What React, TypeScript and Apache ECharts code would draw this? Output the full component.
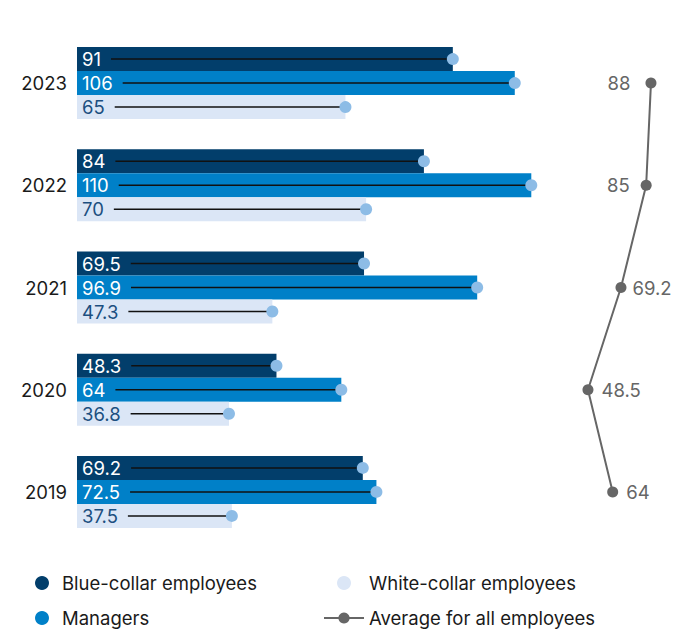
import React, { useEffect, useRef } from "react";
import * as echarts from "echarts";

const categories = ["2023", "2022", "2021", "2020", "2019"];
const blueCollar = [91, 84, 69.5, 48.3, 69.2];
const managers = [106, 110, 96.9, 64, 72.5];
const whiteCollar = [65, 70, 47.3, 36.8, 37.5];
const average = [88, 85, 69.2, 48.5, 64];

const FONT = "Inter, 'Noto Sans', sans-serif";
const FS = 18.5;
const C_BLUE = "#023e6b";
const C_MAN = "#0080c8";
const C_WHITE = "#dbe6f6";
const C_AVG = "#666666";
const C_DOT = "#8dbce6";

export default function App() {
  const ref = useRef<HTMLDivElement>(null);
  useEffect(() => {
    if (!ref.current) return;
    const chart = echarts.init(ref.current, null, { renderer: "svg" });
    const canvas = document.createElement("canvas");
    const ctx = canvas.getContext("2d")!;
    ctx.font = FS + "px Inter";
    const measure = (t: string) => ctx.measureText(t).width;

    const barSeries = (name: string, data: number[], color: string, labelColor: string) => ({
      type: "bar",
      name,
      data,
      xAxisIndex: 0,
      yAxisIndex: 0,
      barWidth: 24,
      barGap: "0%",
      itemStyle: { color },
      silent: true,
      z: 2,
      label: {
        show: true,
        position: "insideLeft",
        distance: 5,
        color: labelColor,
        fontSize: FS,
        fontFamily: FONT,
      },
    });

    const connector = (data: number[], offset: number) => ({
      type: "custom",
      xAxisIndex: 0,
      yAxisIndex: 0,
      z: 3,
      silent: true,
      data: data.map((v, i) => [v, i]),
      renderItem: (params: any, api: any) => {
        const v = api.value(0);
        const c = api.value(1);
        const p0 = api.coord([0, c]);
        const p1 = api.coord([v, c]);
        const y = p1[1] + offset;
        const x0 = p0[0] + 5 + measure(String(v)) + 10;
        return {
          type: "group",
          children: [
            {
              type: "line",
              shape: { x1: x0, y1: y, x2: p1[0], y2: y },
              style: { stroke: "#111", lineWidth: 1.5 },
            },
            {
              type: "circle",
              shape: { cx: p1[0], cy: y, r: 6 },
              style: { fill: C_DOT },
            },
          ],
        };
      },
    });

    const avgLabelPos = ["left", "left", "right", "right", "right"];
    const avgLabelDist = [15, 11, 6, 8, 8];

    const legendText = { fontSize: FS, color: "#1a1a1a", fontFamily: FONT, lineHeight: 20 };

    const option: any = {
      animation: false,
      grid: [
        { left: 77, top: 32, width: 495.6, height: 511, containLabel: false },
        { left: 510.6, top: 32, width: 159.5, height: 511, containLabel: false },
      ],
      xAxis: [
        { type: "value", gridIndex: 0, min: 0, max: 120, show: false },
        { type: "value", gridIndex: 1, min: 0, max: 100, show: false },
      ],
      yAxis: [
        {
          type: "category",
          gridIndex: 0,
          data: categories,
          inverse: true,
          axisLine: { show: false },
          axisTick: { show: false },
          splitLine: { show: false },
          axisLabel: { margin: 10, fontSize: FS, color: "#1a1a1a", fontFamily: FONT },
        },
        {
          type: "category",
          gridIndex: 1,
          data: categories,
          inverse: true,
          show: false,
        },
      ],
      legend: [
        {
          orient: "vertical",
          left: 35,
          top: 573,
          padding: 0,
          itemWidth: 30,
          itemHeight: 14,
          itemGap: 15,
          icon: "circle",
          selectedMode: false,
          data: ["Blue-collar employees", "Managers"],
          textStyle: legendText,
        },
        {
          orient: "vertical",
          left: 323,
          top: 573,
          padding: 0,
          itemWidth: 40,
          itemHeight: 14,
          itemGap: 15,
          selectedMode: false,
          data: [
            { name: "White-collar employees", icon: "circle", itemStyle: { color: C_WHITE } },
            { name: "Average for all employees" },
          ],
          textStyle: legendText,
        },
      ],
      series: [
        barSeries("Blue-collar employees", blueCollar, C_BLUE, "#ffffff"),
        barSeries("Managers", managers, C_MAN, "#ffffff"),
        barSeries("White-collar employees", whiteCollar, C_WHITE, "#1c4f80"),
        connector(blueCollar, -24),
        connector(managers, 0),
        connector(whiteCollar, 24),
        {
          type: "line",
          name: "Average for all employees",
          xAxisIndex: 1,
          yAxisIndex: 1,
          data: average.map((v, i) => ({
            value: v,
            label: { position: avgLabelPos[i], distance: avgLabelDist[i] },
          })),
          symbol: "circle",
          symbolSize: 11,
          silent: true,
          z: 4,
          lineStyle: { color: C_AVG, width: 2 },
          itemStyle: { color: C_AVG },
          label: {
            show: true,
            fontSize: FS,
            color: C_AVG,
            fontFamily: FONT,
          },
        },
      ],
    };
    chart.setOption(option);
    return () => chart.dispose();
  }, []);
  return (
    <div
      ref={ref}
      style={{ position: "fixed", left: 0, top: 0, width: 673, height: 631, background: "#fff" }}
    />
  );
}
